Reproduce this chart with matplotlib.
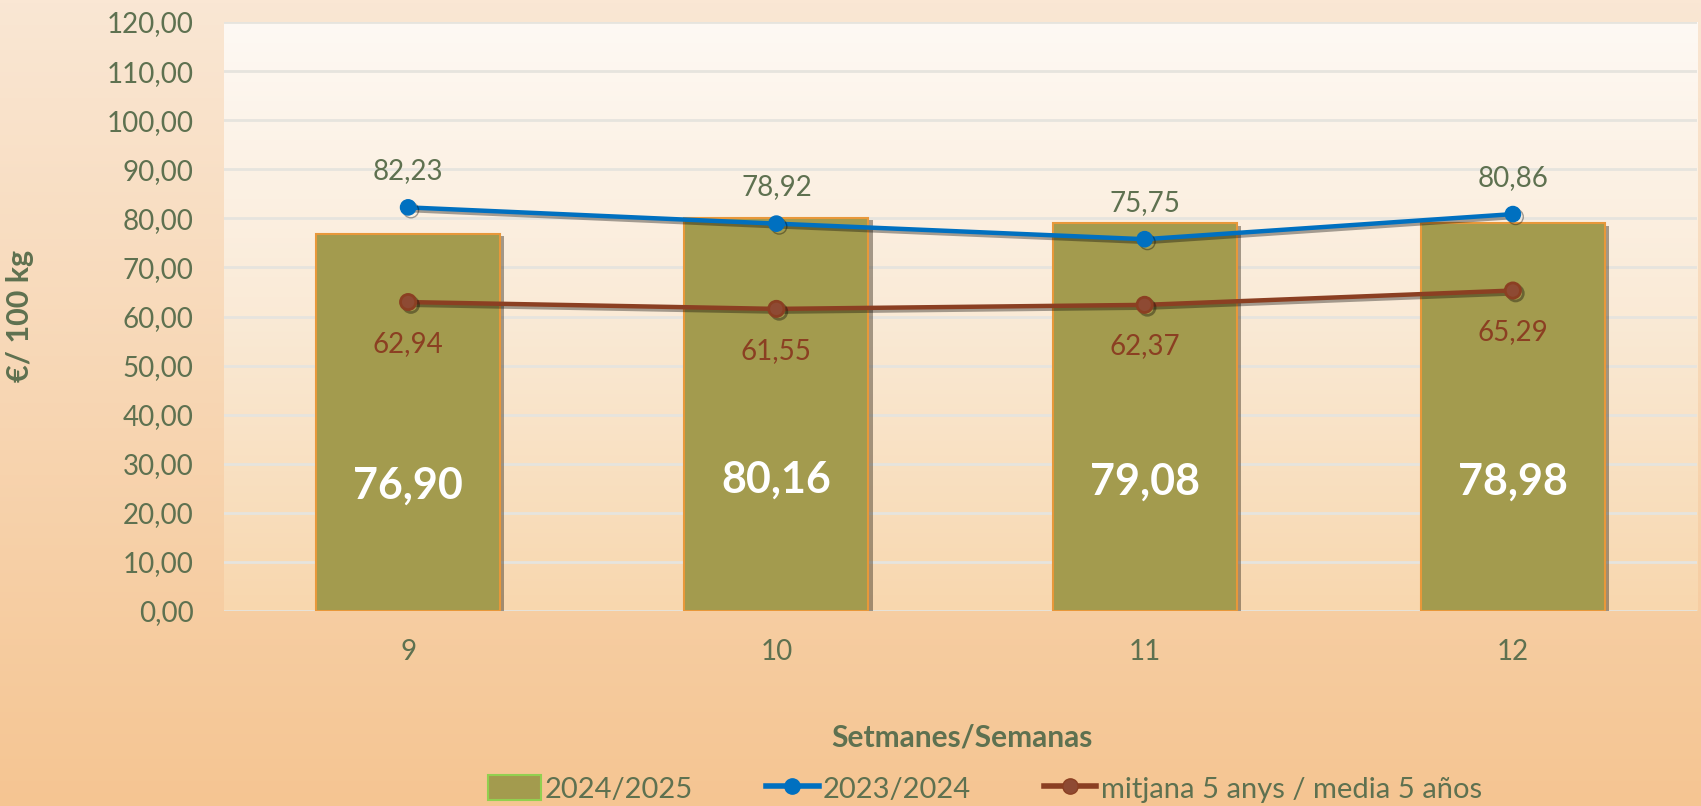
import numpy as np
import matplotlib
matplotlib.use("Agg")
import matplotlib.pyplot as plt
import matplotlib.patheffects as pe
from matplotlib.colors import LinearSegmentedColormap
from matplotlib.patches import Patch
from matplotlib.lines import Line2D

# ---- data ----
weeks = ["9", "10", "11", "12"]
season_2024_2025 = [76.90, 80.16, 79.08, 78.98]
season_2023_2024 = [82.23, 78.92, 75.75, 80.86]
avg_5_years = [62.94, 61.55, 62.37, 65.29]
yticks = [0, 10, 20, 30, 40, 50, 60, 70, 80, 90, 100, 110, 120]

def fmt(v):
    return f"{v:.2f}".replace(".", ",")

plt.rcParams['font.family'] = ['Lato', 'DejaVu Sans']
TXT = "#5E7150"
GREEN_BAR = "#A39B4E"
BLUE = "#0070C0"
BROWN = "#8B3F22"

fig = plt.figure(figsize=(17.01, 8.06), dpi=100)

# figure background gradient
bg = fig.add_axes([0, 0, 1, 1], zorder=-10)
bg_cmap = LinearSegmentedColormap.from_list("bg", ["#FAE7D4", "#F5C592"])
grad = np.linspace(0, 1, 256).reshape(-1, 1)
bg.imshow(grad, cmap=bg_cmap, aspect="auto", extent=[0, 1, 0, 1], origin="upper")
bg.set_axis_off()

ax = fig.add_axes([224/1701, 1-611/806, (1697-224)/1701, (611-22)/806])
ax.patch.set_visible(False)
pa_cmap = LinearSegmentedColormap.from_list("pa", ["#FEF9F4", "#FAEAD6", "#F8D7AE"])
ax.imshow(grad, cmap=pa_cmap, aspect="auto", extent=[0, 1, 0, 1],
          transform=ax.transAxes, origin="upper", zorder=-5)

x = np.arange(len(weeks))
ax.set_xlim(-0.5, len(weeks) - 0.5)
ax.set_ylim(0, 120)

# grid
for t in yticks:
    ax.axhline(t, color="#E6E4DE", lw=2, zorder=0)

bars = ax.bar(x, season_2024_2025, width=0.5, color=GREEN_BAR, edgecolor="#E8983A",
              linewidth=1.5, zorder=2)
for b in bars:
    b.set_path_effects([pe.SimplePatchShadow(offset=(3, -2), alpha=0.45, shadow_rgbFace="#3a3020"), pe.Normal()])

shadow_line = [pe.SimpleLineShadow(offset=(2, -2), alpha=0.35), pe.Normal()]
ax.plot(x, season_2023_2024, color=BLUE, lw=3.2, marker="o", markersize=11,
        markerfacecolor=BLUE, markeredgecolor=BLUE, zorder=4, path_effects=shadow_line)
ax.plot(x, avg_5_years, color=BROWN, lw=3.2, marker="o", markersize=11,
        markerfacecolor="#8E4A33", markeredgecolor=BROWN, markeredgewidth=2,
        zorder=4, path_effects=shadow_line)

# labels
for xi, v in zip(x, season_2024_2025):
    ax.text(xi, v / 3, fmt(v), ha="center", va="center", color="white",
            fontsize=31, fontweight="bold", zorder=6)
for xi, v in zip(x, season_2023_2024):
    ax.annotate(fmt(v), (xi, v), xytext=(0, 26), textcoords="offset points",
                ha="center", va="center", color=TXT, fontsize=20, zorder=6)
for xi, v in zip(x, avg_5_years):
    ax.annotate(fmt(v), (xi, v), xytext=(0, -30), textcoords="offset points",
                ha="center", va="center", color=BROWN, fontsize=20, zorder=6)

ax.set_yticks(yticks)
ax.set_yticklabels([fmt(t) for t in yticks], color=TXT, fontsize=20)
ax.set_xticks(x)
ax.set_xticklabels(weeks, color=TXT, fontsize=20)
ax.tick_params(axis="y", length=0, pad=22)
ax.tick_params(axis="x", length=0, pad=20)
for s in ax.spines.values():
    s.set_visible(False)

fig.text(20/1701, 1-316/806, "€/ 100 kg", rotation=90, ha="center", va="center",
         color=TXT, fontsize=22, fontweight="bold")
fig.text(962/1701, 1-738/806, "Setmanes/Semanas", ha="center", va="center",
         color=TXT, fontsize=21.5, fontweight="bold")

handles = [
    Patch(facecolor=GREEN_BAR, edgecolor="#92D050", linewidth=1.5),
    Line2D([0], [0], color=BLUE, lw=4, marker="o", markersize=11),
    Line2D([0], [0], color=BROWN, lw=4, marker="o", markersize=11,
           markerfacecolor="#8E4A33", markeredgecolor=BROWN),
]
leg = fig.legend(handles, ["2024/2025", "2023/2024", "mitjana 5 anys / media 5 años"],
                 loc="center", bbox_to_anchor=(985/1701, 1-789/806), ncol=3,
                 frameon=False, fontsize=21, handlelength=1.8, handletextpad=0.15,
                 columnspacing=2.5, handleheight=0.9)
for t in leg.get_texts():
    t.set_color(TXT)

fig.savefig("out.png", dpi=100)
